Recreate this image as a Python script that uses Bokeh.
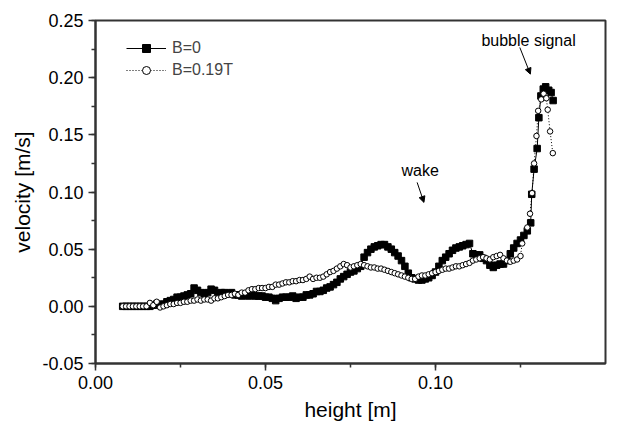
from bokeh.plotting import figure
from bokeh.models import (Range1d, SingleIntervalTicker, NumeralTickFormatter, Legend,
                          LegendItem, Label, Arrow, NormalHead)
from bokeh.embed import file_html
from bokeh.resources import INLINE

# ---- data: B = 0 (filled squares) ----
h_b0 = [0.008, 0.009, 0.010, 0.011, 0.012, 0.013, 0.014, 0.015, 0.016, 0.017, 0.018,
        0.019, 0.020, 0.021, 0.022, 0.023, 0.024, 0.025, 0.026, 0.027, 0.028, 0.029,
        0.030, 0.031, 0.032, 0.033, 0.034, 0.035, 0.036, 0.037, 0.038, 0.039, 0.040,
        0.041, 0.042, 0.043, 0.044, 0.045, 0.046, 0.047, 0.048, 0.049, 0.050, 0.051,
        0.052, 0.053, 0.054, 0.055, 0.056, 0.057, 0.058, 0.059, 0.060, 0.061, 0.062,
        0.063, 0.064, 0.065, 0.066, 0.067, 0.068, 0.069, 0.070, 0.071, 0.072, 0.073,
        0.074, 0.075, 0.076, 0.077, 0.078, 0.079, 0.080, 0.081, 0.082, 0.083, 0.084,
        0.085, 0.086, 0.087, 0.088, 0.089, 0.090, 0.091, 0.092, 0.093, 0.094, 0.095,
        0.096, 0.097, 0.098, 0.099, 0.100, 0.101, 0.102, 0.103, 0.104, 0.105, 0.106,
        0.107, 0.108, 0.109, 0.110, 0.111, 0.112, 0.113, 0.114, 0.115, 0.116, 0.117,
        0.118, 0.119, 0.120, 0.121, 0.122, 0.123, 0.124, 0.125, 0.126, 0.127, 0.128,
        0.1283, 0.1290, 0.1299, 0.1304, 0.1310, 0.1317, 0.1324, 0.1333, 0.1340, 0.1346]
v_b0 = [0.000, 0.000, 0.000, 0.000, 0.000, 0.000, 0.000, 0.000, 0.000, 0.001, 0.002,
        0.001, 0.002, 0.004, 0.005, 0.006, 0.008, 0.008, 0.009, 0.010, 0.011, 0.016,
        0.014, 0.012, 0.011, 0.012, 0.015, 0.014, 0.011, 0.012, 0.012, 0.011, 0.012,
        0.010, 0.010, 0.009, 0.010, 0.009, 0.010, 0.009, 0.009, 0.009, 0.008, 0.008,
        0.007, 0.005, 0.007, 0.008, 0.008, 0.008, 0.009, 0.007, 0.008, 0.008, 0.010,
        0.010, 0.011, 0.013, 0.013, 0.014, 0.016, 0.017, 0.019, 0.021, 0.024, 0.026,
        0.028, 0.030, 0.031, 0.033, 0.035, 0.043, 0.047, 0.050, 0.052, 0.053, 0.054,
        0.054, 0.052, 0.050, 0.047, 0.044, 0.040, 0.035, 0.029, 0.025, 0.024, 0.023,
        0.023, 0.024, 0.025, 0.027, 0.030, 0.035, 0.040, 0.043, 0.046, 0.049, 0.051,
        0.052, 0.053, 0.054, 0.055, 0.046, 0.045, 0.045, 0.042, 0.040, 0.036, 0.034,
        0.036, 0.037, 0.037, 0.040, 0.046, 0.051, 0.055, 0.058, 0.062, 0.066, 0.073,
        0.098, 0.120, 0.138, 0.165, 0.184, 0.190, 0.192, 0.189, 0.187, 0.180]

# ---- data: B = 0.19T (open circles) ----
h_b19 = [0.008, 0.009, 0.010, 0.011, 0.012, 0.013, 0.014, 0.015, 0.016, 0.017, 0.018,
         0.019, 0.020, 0.021, 0.022, 0.023, 0.024, 0.025, 0.026, 0.027, 0.028, 0.029,
         0.030, 0.031, 0.032, 0.033, 0.034, 0.035, 0.036, 0.037, 0.038, 0.039, 0.040,
         0.041, 0.042, 0.043, 0.044, 0.045, 0.046, 0.047, 0.048, 0.049, 0.050, 0.051,
         0.052, 0.053, 0.054, 0.055, 0.056, 0.057, 0.058, 0.059, 0.060, 0.061, 0.062,
         0.063, 0.064, 0.065, 0.066, 0.067, 0.068, 0.069, 0.070, 0.071, 0.072, 0.073,
         0.074, 0.075, 0.076, 0.077, 0.078, 0.079, 0.080, 0.081, 0.082, 0.083, 0.084,
         0.085, 0.086, 0.087, 0.088, 0.089, 0.090, 0.091, 0.092, 0.093, 0.094, 0.095,
         0.096, 0.097, 0.098, 0.099, 0.100, 0.101, 0.102, 0.103, 0.104, 0.105, 0.106,
         0.107, 0.108, 0.109, 0.110, 0.111, 0.112, 0.113, 0.114, 0.115, 0.116, 0.117,
         0.118, 0.119, 0.120, 0.121, 0.122, 0.123, 0.124, 0.125, 0.1255, 0.127, 0.1278,
         0.1284, 0.1290, 0.1297, 0.1302, 0.1311, 0.1318, 0.1326, 0.1330, 0.1337, 0.1345]
v_b19 = [0.000, 0.000, 0.000, 0.000, 0.000, 0.000, 0.000, 0.000, 0.003, 0.001, 0.004,
         -0.001, 0.000, 0.001, 0.002, 0.002, 0.003, 0.003, 0.004, 0.004, 0.005, 0.005,
         0.006, 0.005, 0.006, 0.006, 0.005, 0.007, 0.007, 0.008, 0.009, 0.010, 0.010,
         0.011, 0.010, 0.012, 0.012, 0.014, 0.015, 0.015, 0.016, 0.016, 0.016, 0.017,
         0.017, 0.019, 0.019, 0.020, 0.021, 0.021, 0.022, 0.022, 0.023, 0.023, 0.024,
         0.026, 0.024, 0.025, 0.025, 0.026, 0.028, 0.030, 0.031, 0.033, 0.035, 0.037,
         0.036, 0.034, 0.035, 0.036, 0.037, 0.036, 0.035, 0.034, 0.034, 0.033, 0.033,
         0.032, 0.031, 0.030, 0.029, 0.028, 0.027, 0.026, 0.025, 0.024, 0.024, 0.026,
         0.027, 0.027, 0.028, 0.029, 0.030, 0.031, 0.032, 0.033, 0.033, 0.034, 0.035,
         0.035, 0.036, 0.037, 0.038, 0.040, 0.041, 0.042, 0.043, 0.042, 0.041, 0.043,
         0.044, 0.045, 0.042, 0.040, 0.039, 0.040, 0.041, 0.044, 0.055, 0.069, 0.081,
         0.099, 0.125, 0.149, 0.171, 0.181, 0.186, 0.182, 0.172, 0.153, 0.134]

FONT = "Liberation Sans"
AXC = "#333333"

p = figure(width=614, height=426, output_backend="svg", toolbar_location=None,
           x_range=Range1d(0.0, 0.15), y_range=Range1d(-0.05, 0.25),
           min_border_left=95, min_border_right=9, min_border_top=20, min_border_bottom=63)
p.grid.visible = False
p.background_fill_color = "white"
p.border_fill_color = "white"
p.outline_line_color = AXC
p.outline_line_width = 2

p.xaxis.ticker = SingleIntervalTicker(interval=0.05, num_minor_ticks=2)
p.yaxis.ticker = SingleIntervalTicker(interval=0.05, num_minor_ticks=2)
for ax in (p.xaxis[0], p.yaxis[0]):
    ax.formatter = NumeralTickFormatter(format="0.00")
    ax.axis_line_color = AXC
    ax.axis_line_width = 2
    ax.major_tick_line_color = AXC
    ax.minor_tick_line_color = AXC
    ax.major_tick_line_width = 1.5
    ax.minor_tick_line_width = 1.5
    ax.major_tick_out = 7
    ax.major_tick_in = 0
    ax.minor_tick_out = 4
    ax.minor_tick_in = 0
    ax.major_label_text_font = FONT
    ax.major_label_text_font_size = "18px"
    ax.major_label_text_color = "black"
    ax.major_label_standoff = 5
    ax.axis_label_text_font = FONT
    ax.axis_label_text_font_size = "21px"
    ax.axis_label_text_font_style = "normal"
    ax.axis_label_text_color = "black"

p.xaxis.axis_label = "height [m]"
p.yaxis.axis_label = "velocity [m/s]"
p.xaxis.axis_label_standoff = 6
p.yaxis.axis_label_standoff = 5

l0 = p.line(h_b0, v_b0, line_color="black", line_width=1)
s0 = p.scatter(h_b0, v_b0, marker="square", size=6.5, fill_color="black", line_color="black")
l1 = p.line(h_b19, v_b19, line_color="black", line_width=1, line_dash="1 2")
s1 = p.scatter(h_b19, v_b19, marker="circle", size=5.5, fill_color="white",
               line_color="black", line_width=1)

legend = Legend(items=[LegendItem(label="B=0", renderers=[l0, s0]),
                       LegendItem(label="B=0.19T", renderers=[l1, s1])],
                location=(31, 283), padding=0, spacing=2, glyph_width=40, glyph_height=20,
                label_standoff=6, label_text_font=FONT, label_text_font_size="16px",
                label_height=20, border_line_color=None, background_fill_alpha=0)
p.add_layout(legend)

p.add_layout(Label(x=0.1135, y=0.2398, text="bubble signal", text_font=FONT,
                   text_font_size="16px", text_baseline="top", text_color="black"))
p.add_layout(Label(x=0.090, y=0.126, text="wake", text_font=FONT,
                   text_font_size="16px", text_baseline="top", text_color="black"))
p.add_layout(Arrow(end=NormalHead(size=6, fill_color="black", line_color="black"),
                   x_start=0.1248, y_start=0.2264, x_end=0.1279, y_end=0.2031,
                   line_color="black", line_width=1))
p.add_layout(Arrow(end=NormalHead(size=6, fill_color="black", line_color="black"),
                   x_start=0.0946, y_start=0.1084, x_end=0.0966, y_end=0.0909,
                   line_color="black", line_width=1))

open("out.html", "w").write(file_html(p, INLINE))
